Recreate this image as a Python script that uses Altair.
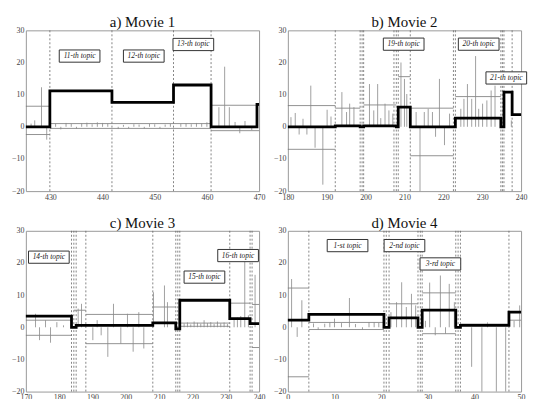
import altair as alt
import pandas as pd

# ---------------- data ----------------
A_TITLE = "a) Movie 1"
A_DOMAIN = [425.3, 470]
A_XTICKS = [430, 440, 450, 460, 470]
A_STEP_X = [425.3, 429.9, 441.8, 453.6, 460.8, 469.6, 470]
A_STEP_Y = [0, 11.2, 7.6, 13.0, 0, 7.0, 7.0]
A_DASH_X = [429.9, 441.8, 453.6, 460.8]
A_SEG_X1 = [425.3, 425.3, 460.8, 460.8, 429.9, 429.9]
A_SEG_X2 = [429.9, 429.9, 470, 470, 460.8, 460.8]
A_SEG_Y = [6.4, -2.4, 6.7, -1.2, 1.0, -0.5]
A_STEM_X = [426.3, 427.0, 428.3, 429.3,
            431, 432, 433, 434, 435, 436, 437, 438, 439, 440, 441,
            443, 444, 445, 446, 447, 448, 449, 450, 451, 452, 453,
            455, 456, 457, 458, 459, 460,
            462.3, 463.4, 464.3, 465.4, 466.3, 467.3, 468.6]
A_STEM_Y = [1.0, 2.0, 12.3, -4.0,
            1.0, -0.8, 1.2, 0.9, -0.6, 1.1, 1.3, 0.8, 1.4, 1.2, 1.0,
            -0.7, 0.6, -0.5, 0.8, 0.7, -0.6, 0.9, 0.8, -0.5, 0.7, 0.9,
            0.9, 1.1, 0.8, 1.2, 1.0, 1.4,
            6.1, 18.7, 6.1, 1.5, -2.0, 1.8, -1.0]
A_TOPIC_X = [435.6, 447.9, 457.4]
A_TOPIC_Y = [22.0, 22.0, 25.6]
A_TOPIC_T = ["11-th topic", "12-th topic", "13-th topic"]

B_TITLE = "b) Movie 2"
B_DOMAIN = [180, 240]
B_XTICKS = [180, 190, 200, 210, 220, 230, 240]
B_STEP_X = [180, 192.2, 198.6, 199.5, 207.9, 208.4, 211.5, 223.1, 234.8, 235.6, 237.7, 240]
B_STEP_Y = [0, 0.3, 0, 0.3, 0, 6.1, 0, 2.7, 0, 10.8, 3.8, 3.8]
B_DASH_X = [192.2, 198.6, 199.1, 199.5, 207.3, 207.9, 208.4, 211.5, 222.6, 223.1,
            234.8, 235.2, 235.6, 237.7]
B_SEG_X1 = [180, 180, 192.2, 199.5, 208.4, 211.5, 211.5, 223.1]
B_SEG_X2 = [192.2, 192.2, 198.6, 207.9, 211.5, 222.6, 222.6, 234.8]
B_SEG_Y = [6.6, -7.0, 5.8, 6.8, 15.6, 5.8, -9.0, 9.4]
B_STEM_X = [180.8, 181.9, 182.9, 183.9, 184.9, 185.9, 187.0, 189.0, 190.1, 191.1,
            193.9, 195.1, 195.9, 197.0, 201.0, 202.1, 203.1, 203.9, 205.0, 206.0,
            207.0, 209.1, 210.0, 210.6, 213.0, 214.0, 215.1, 216.1, 217.2, 218.0,
            219.0, 220.3, 221.6, 224.5, 225.3, 226.2, 227.3, 228.3, 229.1, 230.1,
            231.2, 232.3, 233.3, 237.5]
B_STEM_Y = [3.0, 4.3, -2.4, 2.5, -2.4, 12.8, -6.5, -18.0, 5.3, 3.2,
            10.8, 4.6, 7.2, 6.1, 13.3, 5.1, 13.3, 2.7, 7.2, 5.1,
            4.1, 20.0, 14.9, 10.2, 4.6, -20.0, 4.6, 5.6, 4.6, -3.1,
            14.9, -5.7, 4.1, 5.6, 8.7, 13.3, 8.7, 22.0, 5.6, 7.2,
            8.2, 11.3, 12.8, 2.0]
B_TOPIC_X = [209.8, 229.1, 236.2]
B_TOPIC_Y = [25.7, 25.7, 15.2]
B_TOPIC_T = ["19-th topic", "20-th topic", "21-th topic"]

C_TITLE = "c) Movie 3"
C_DOMAIN = [170, 240]
C_XTICKS = [170, 180, 190, 200, 210, 220, 230, 240]
C_STEP_X = [170, 183.7, 185.1, 208.1, 215.0, 216.2, 231.2, 237.3, 240]
C_STEP_Y = [3.5, 0, 0.6, 1.4, -0.5, 8.4, 2.7, 1.1, 1.1]
C_DASH_X = [183.7, 184.4, 185.1, 188.0, 208.1, 215.0, 215.6, 216.2, 231.2, 237.3, 237.9]
C_SEG_X1 = [170, 170, 184.4, 188.0, 188.0, 208.1, 216.2, 216.2, 231.2, 237.9, 237.9]
C_SEG_X2 = [183.7, 183.7, 188.0, 208.1, 208.1, 215.0, 231.2, 231.2, 237.3, 240, 240]
C_SEG_Y = [2.2, -2.5, 5.3, 4.0, -5.1, 6.3, 1.3, 0.3, 7.5, 7.1, -6.3]
C_STEM_X = [172.9, 174.1, 175.9, 177.4, 179.3, 181.3, 185.7, 186.7, 190.1, 191.4,
            192.6, 194.6, 196.3, 198.5, 200.5, 202.2, 203.9, 205.4, 208.3, 211.6,
            212.5, 217.5, 218.5, 219.5, 220.5, 221.5, 222.5, 223.5, 224.5, 225.5,
            226.5, 227.5, 228.5, 229.5, 230.5, 232.5, 233.5, 234.5, 235.7, 236.8,
            238.8]
C_STEM_Y = [4.2, -4.0, 2.2, -4.8, 1.6, 0.6, 5.8, 7.3, -4.0, 2.2,
            -2.5, -9.2, 7.3, -5.1, 4.2, -7.6, 4.7, -6.6, 10.9, 13.0,
            7.8, 1.2, 1.5, 0.9, 1.8, 1.4, 1.1, 2.2, 1.3, 1.6,
            1.0, 1.8, 1.2, 1.5, 1.0, 2.5, 3.0, 3.5, 21.2, 3.7,
            16.3]
C_TOPIC_X = [176.9, 233.7, 223.6]
C_TOPIC_Y = [21.8, 22.3, 15.6]
C_TOPIC_T = ["14-th topic", "16-th topic", "15-th topic"]

D_TITLE = "d) Movie 4"
D_DOMAIN = [0, 50]
D_XTICKS = [0, 10, 20, 30, 40, 50]
D_STEP_X = [0, 4.5, 20.6, 21.7, 27.9, 28.8, 36.0, 37.0, 47.4, 50]
D_STEP_Y = [2.2, 4.0, 0, 2.9, 0, 5.3, 0, 0.6, 4.7, 4.7]
D_DASH_X = [4.5, 20.6, 21.1, 21.7, 27.9, 28.4, 28.8, 36.0, 36.5, 37.0, 47.4]
D_SEG_X1 = [0, 0, 4.5, 4.5, 21.7, 28.8, 28.8, 37.0, 47.4]
D_SEG_X2 = [4.5, 4.5, 20.6, 20.6, 27.9, 36.0, 36.0, 47.4, 50]
D_SEG_Y = [12.2, -15.4, -0.7, 1.5, 7.3, 10.7, -2.0, 1.0, 2.2]
D_STEM_X = [0.8, 2.0, 3.0, 5.5, 6.5, 7.9, 9.0, 10.0, 11.5, 13.2,
            14.5, 16.0, 17.4, 18.5, 19.5, 22.1, 23.3, 24.4, 25.4, 26.5,
            27.4, 29.5, 30.4, 31.6, 32.7, 33.8, 34.6, 35.7, 39.4, 41.6,
            42.8, 44.7, 46.7, 48.5, 49.7]
D_STEM_Y = [15.0, -3.0, 8.4, 1.2, -0.8, 1.1, 1.5, 2.7, 1.3, 9.1,
            1.0, -0.8, 1.6, 1.6, 1.4, 4.7, 7.8, 14.0, 6.3, 10.4,
            6.8, 2.0, 13.9, -2.5, 16.1, -2.0, 13.5, 7.8, -12.3, -20,
            1.5, -20, -20, 2.0, 6.8]
D_TOPIC_X = [12.8, 25.0, 32.7]
D_TOPIC_Y = [25.4, 25.4, 19.7]
D_TOPIC_T = ["1-st topic", "2-nd topic", "3-rd topic"]

Y_TICKS = [-20, -10, 0, 10, 20, 30]

SERIF = "Liberation Serif"
W, H = 235, 162


def panel(title, domain, xticks, step_x, step_y, dash_x, s1, s2, sy,
          stem_x, stem_y, tx, ty, tt):
    xs = alt.Scale(domain=domain, nice=False, zero=False)
    ys = alt.Scale(domain=[-20, 30], nice=False)
    xax = alt.Axis(values=xticks, labelFlush=False, title=None)
    yax = alt.Axis(values=Y_TICKS, title=None)

    dash = alt.Chart(pd.DataFrame({"x": dash_x})).mark_rule(
        color="#666", strokeWidth=0.8, strokeDash=[2, 2]
    ).encode(x=alt.X("x:Q", scale=xs, axis=xax))

    segs = alt.Chart(pd.DataFrame({"x1": s1, "x2": s2, "y": sy})).mark_rule(
        color="#777", strokeWidth=0.8
    ).encode(x=alt.X("x1:Q", scale=xs, axis=xax), x2="x2:Q",
             y=alt.Y("y:Q", scale=ys, axis=yax))

    stems = alt.Chart(pd.DataFrame({"x": stem_x, "y": stem_y, "z": [0] * len(stem_x)})).mark_rule(
        color="#888", strokeWidth=0.8
    ).encode(x=alt.X("x:Q", scale=xs, axis=xax),
             y=alt.Y("y:Q", scale=ys, axis=yax), y2="z:Q")

    step = alt.Chart(pd.DataFrame({"x": step_x, "y": step_y})).mark_line(
        interpolate="step-after", color="black", strokeWidth=2.8
    ).encode(x=alt.X("x:Q", scale=xs, axis=xax),
             y=alt.Y("y:Q", scale=ys, axis=yax))

    tdf = pd.DataFrame({"x": tx, "y": ty, "t": tt})
    boxes = alt.Chart(tdf).mark_point(
        shape="M-1,-0.3L1,-0.3L1,0.3L-1,0.3Z", size=1681, filled=True,
        fill="white", stroke="#333", strokeWidth=1, opacity=1
    ).encode(x=alt.X("x:Q", scale=xs, axis=xax),
             y=alt.Y("y:Q", scale=ys, axis=yax))
    texts = alt.Chart(tdf).mark_text(
        font=SERIF, fontStyle="italic", fontSize=7.5, color="#222",
        align="center", baseline="middle"
    ).encode(x=alt.X("x:Q", scale=xs, axis=xax),
             y=alt.Y("y:Q", scale=ys, axis=yax), text="t:N")

    return alt.layer(dash, segs, stems, step, boxes, texts).properties(
        width=W, height=H, title=alt.TitleParams(title, frame="group")
    )


pa = panel(A_TITLE, A_DOMAIN, A_XTICKS, A_STEP_X, A_STEP_Y, A_DASH_X,
           A_SEG_X1, A_SEG_X2, A_SEG_Y, A_STEM_X, A_STEM_Y,
           A_TOPIC_X, A_TOPIC_Y, A_TOPIC_T)
pb = panel(B_TITLE, B_DOMAIN, B_XTICKS, B_STEP_X, B_STEP_Y, B_DASH_X,
           B_SEG_X1, B_SEG_X2, B_SEG_Y, B_STEM_X, B_STEM_Y,
           B_TOPIC_X, B_TOPIC_Y, B_TOPIC_T)
pc = panel(C_TITLE, C_DOMAIN, C_XTICKS, C_STEP_X, C_STEP_Y, C_DASH_X,
           C_SEG_X1, C_SEG_X2, C_SEG_Y, C_STEM_X, C_STEM_Y,
           C_TOPIC_X, C_TOPIC_Y, C_TOPIC_T)
pd_ = panel(D_TITLE, D_DOMAIN, D_XTICKS, D_STEP_X, D_STEP_Y, D_DASH_X,
            D_SEG_X1, D_SEG_X2, D_SEG_Y, D_STEM_X, D_STEM_Y,
            D_TOPIC_X, D_TOPIC_Y, D_TOPIC_T)

chart = alt.concat(pa, pb, pc, pd_, columns=2,
                   spacing={"row": 40, "column": 29}, bounds="flush").properties(
    padding={"left": 2, "top": 5, "right": 0, "bottom": 0}
).configure_axis(
    labelFont=SERIF, labelFontSize=8, labelColor="#444", ticks=False,
    domain=False, grid=False, labelPadding=2
).configure_view(
    stroke="#999", strokeWidth=1
).configure_title(
    font=SERIF, fontSize=15, fontWeight="normal", color="#111", offset=-4,
    anchor="middle"
)

chart.save("out.html", embed_options={"renderer": "svg", "actions": False})
